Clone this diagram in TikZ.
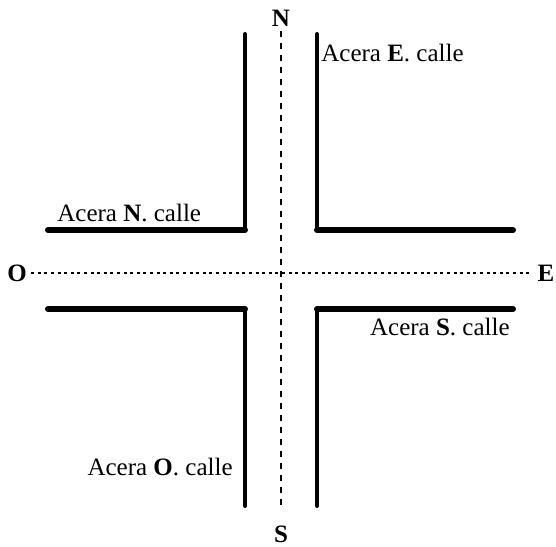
\documentclass[tikz,border=0pt]{standalone}
\usepackage{fontspec}
\setmainfont{Liberation Serif}
\begin{document}
\begin{tikzpicture}[x=0.5pt,y=-0.5pt,font=\fontsize{12.5}{15}\selectfont]
	% estilos
	\tikzset{
		aceraH/.style = {line width=3pt, line cap=round},
		aceraV/.style = {line width=2pt, line cap=round},
		ejeH/.style   = {line width=1.4pt, dash pattern=on 1.5pt off 1.8pt},
		ejeV/.style   = {line width=1.2pt, dash pattern=on 3pt off 3pt},
		rumbo/.style  = {inner sep=0pt, font=\fontsize{12.5}{15}\selectfont\bfseries},
		rotulo/.style = {inner sep=0pt},
	}
	\useasboundingbox (0,0) rectangle (556,546);
	
	% puntos cardinales
	\node[rumbo] (N) at (281,18) {N};
	\node[rumbo] (S) at (281,534) {S};
	\node[rumbo] (O) at (17,273) {O};
	\node[rumbo] (E) at (546,273) {E};
	
	% ejes
	\draw[ejeV, shorten <=2pt, shorten >=9pt] (N.south) -- (S.north);
	\draw[ejeH, shorten <=2pt, shorten >=2.5pt] (O.east) -- (E.west);
	
	% esquinas de las aceras
	\coordinate (noArr) at (245,34);  \coordinate (noEsq) at (245,230);  \coordinate (noFin) at (48,230);
	\coordinate (neArr) at (317,34);  \coordinate (neEsq) at (317,230);  \coordinate (neFin) at (513,230);
	\coordinate (soAba) at (245,506); \coordinate (soEsq) at (245,309);  \coordinate (soFin) at (48,309);
	\coordinate (seAba) at (317,506); \coordinate (seEsq) at (317,309);  \coordinate (seFin) at (513,309);
	
	% aceras
	\foreach \q in {no,ne} {
		\draw[aceraV] (\q Arr) -- (\q Esq);
		\draw[aceraH] (\q Fin) -- (\q Esq);
	}
	\foreach \q in {so,se} {
		\draw[aceraV] (\q Aba) -- (\q Esq);
		\draw[aceraH] (\q Fin) -- (\q Esq);
	}
	
	% rotulos
	\node[rotulo, anchor=base west] (rN) at (57,221)  {Acera \textbf{N}. calle};
	\node[rotulo, anchor=base west] (rE) at (321,61)  {Acera \textbf{E}. calle};
	\node[rotulo, anchor=base east] (rS) at (510,335) {Acera \textbf{S}. calle};
	\node[rotulo, anchor=base east] (rO) at (233,475) {Acera \textbf{O}. calle};
	
\end{tikzpicture}
\end{document}
